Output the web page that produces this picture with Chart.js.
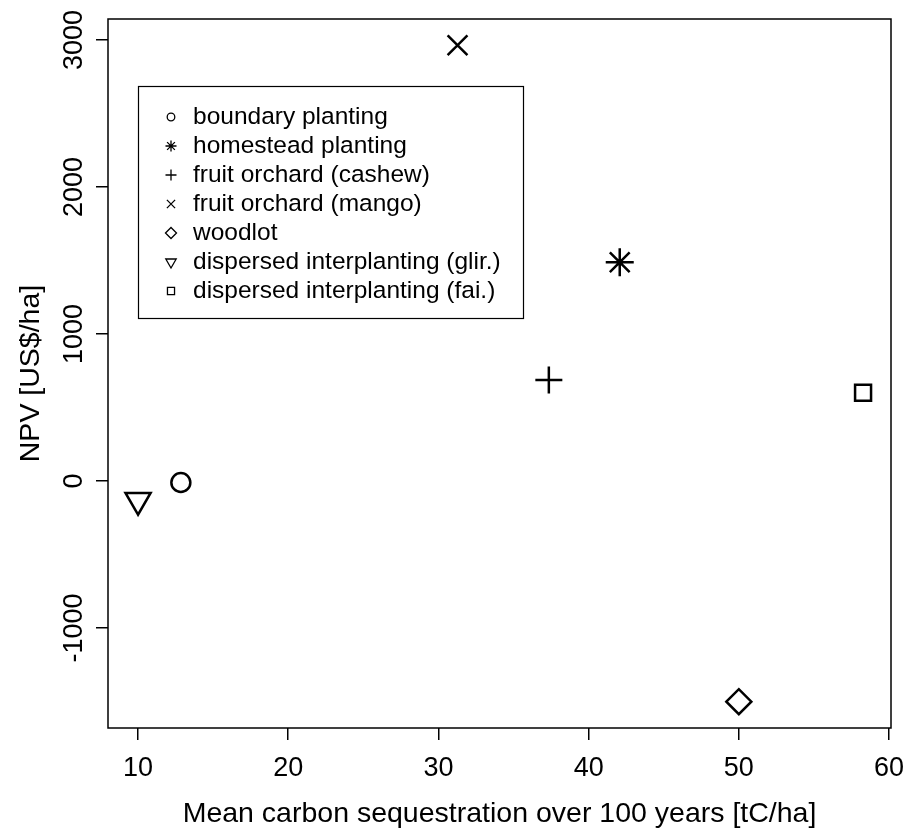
<!DOCTYPE html>
<html>
<head>
<meta charset="utf-8">
<script src="https://cdn.jsdelivr.net/npm/chart.js@4.4.0/dist/chart.umd.min.js"></script>
<style>
  html, body { margin: 0; padding: 0; background: #fff; }
  #wrap { width: 909px; height: 836px; }
</style>
</head>
<body>
<div id="wrap"><canvas id="c" width="909" height="836"></canvas></div>
<script>
// data
const systems = [
  'boundary planting',
  'homestead planting',
  'fruit orchard (cashew)',
  'fruit orchard (mango)',
  'woodlot',
  'dispersed interplanting (glir.)',
  'dispersed interplanting (fai.)'
];
const carbon = [12.85, 42.07, 37.35, 31.27, 50.0, 10.0, 58.27];
const npv = [-10, 1488, 687, 2964, -1501, -130, 600];
const xTicks = [10, 20, 30, 40, 50, 60];
const yTicks = [-1000, 0, 1000, 2000, 3000];

// marker look (R pch 1, 8, 3, 4, 5, 6, 0)
const markers = [
  { style: 'circle',   r: 9.5,  lr: 3.8, rot: 0 },
  { style: 'star',     r: 14,   lr: 5.5, rot: 0 },
  { style: 'cross',    r: 13.5, lr: 5.5, rot: 0 },
  { style: 'crossRot', r: 14,   lr: 5.8, rot: 0 },
  { style: 'rectRot',  r: 12.5, lr: 5.5, rot: 0 },
  { style: 'triangle', r: 14.5, lr: 6,   rot: 180 },
  { style: 'rect',     r: 11.3, lr: 5,   rot: 0 }
];

const FONT = '"Liberation Sans", Arial, Helvetica, sans-serif';
const TICK_SIZE = 27;
const TITLE_SIZE = 28.5;

const datasets = systems.map((name, i) => ({
  label: name,
  data: [{ x: carbon[i], y: npv[i] }],
  pointStyle: markers[i].style,
  pointRotation: markers[i].rot,
  pointRadius: markers[i].r,
  pointHoverRadius: markers[i].r,
  pointBorderWidth: 2.5,
  pointBorderColor: '#000',
  pointBackgroundColor: 'rgba(0,0,0,0)',
  showLine: false
}));

// box round the plot, y tick labels parallel to the axis, legend box
const frame = {
  id: 'frame',
  afterDraw(chart) {
    const ctx = chart.ctx;
    const a = chart.chartArea;
    ctx.save();
    ctx.strokeStyle = '#000';
    ctx.lineWidth = 1.5;
    ctx.strokeRect(a.left, a.top, a.right - a.left, a.bottom - a.top);

    // y tick labels
    const ys = chart.scales.y;
    ctx.fillStyle = '#000';
    ctx.font = TICK_SIZE + 'px ' + FONT;
    ctx.textAlign = 'center';
    ctx.textBaseline = 'middle';
    yTicks.forEach(v => {
      const py = ys.getPixelForValue(v);
      ctx.save();
      ctx.translate(75, py);
      ctx.rotate(-Math.PI / 2);
      ctx.fillText(String(v), 0, 0);
      ctx.restore();
    });

    // legend
    ctx.lineWidth = 1.2;
    ctx.strokeRect(138.5, 86.5, 385, 232);
    ctx.font = '24.5px ' + FONT;
    ctx.textAlign = 'left';
    chart.data.datasets.forEach((ds, i) => {
      const y = 117 + i * 29;
      ctx.fillStyle = 'rgba(0,0,0,0)';
      ctx.strokeStyle = '#000';
      ctx.lineWidth = 1.3;
      Chart.helpers.drawPoint(ctx, {
        pointStyle: ds.pointStyle,
        rotation: ds.pointRotation,
        radius: markers[i].lr,
        borderWidth: 1.3
      }, 171, y);
      ctx.fillStyle = '#000';
      ctx.fillText(ds.label, 193, y);
    });
    ctx.restore();
  }
};

new Chart(document.getElementById('c'), {
  type: 'scatter',
  data: { datasets: datasets },
  options: {
    responsive: false,
    animation: false,
    layout: { padding: { top: 19, right: 18, left: 0, bottom: 0 } },
    plugins: {
      legend: { display: false },
      tooltip: { enabled: false }
    },
    scales: {
      x: {
        type: 'linear',
        min: 8.0,
        max: 60.13,
        afterBuildTicks: s => { s.ticks = xTicks.map(v => ({ value: v })); },
        afterFit: s => { s.height = 108; s.paddingLeft = 0; s.paddingRight = 0; },
        border: { display: false },
        grid: { drawOnChartArea: false, drawTicks: true, tickLength: 12, color: '#000', lineWidth: 1.5 },
        ticks: { color: '#000', font: { family: FONT, size: TICK_SIZE }, padding: 12, maxRotation: 0, autoSkip: false },
        title: {
          display: true,
          text: 'Mean carbon sequestration over 100 years [tC/ha]',
          color: '#000',
          font: { family: FONT, size: TITLE_SIZE },
          padding: { top: 0, bottom: 5 }
        }
      },
      y: {
        type: 'linear',
        min: -1680,
        max: 3143,
        afterBuildTicks: s => { s.ticks = yTicks.map(v => ({ value: v })); },
        afterFit: s => { s.width = 108; },
        border: { display: false },
        grid: { drawOnChartArea: false, drawTicks: true, tickLength: 12, color: '#000', lineWidth: 1.5 },
        ticks: { display: false },
        title: {
          display: true,
          text: 'NPV [US$/ha]',
          color: '#000',
          font: { family: FONT, size: TITLE_SIZE },
          padding: { top: 14, bottom: 0 }
        }
      }
    }
  },
  plugins: [frame]
});
</script>
</body>
</html>
